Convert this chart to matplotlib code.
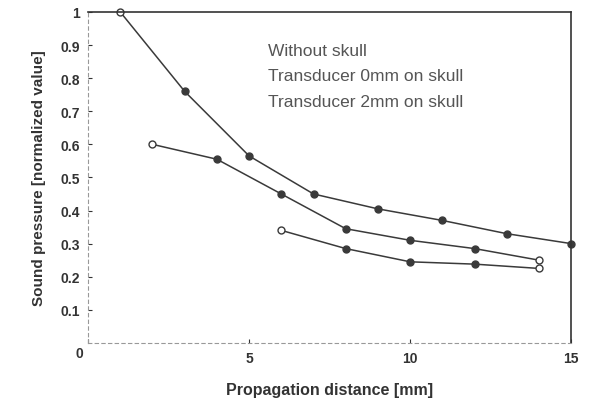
import numpy as np
import matplotlib.pyplot as plt

# distances in mm, pressure normalized to 1
x_free = [1, 3, 5, 7, 9, 11, 13, 15]
p_free = [1.0, 0.76, 0.565, 0.45, 0.405, 0.37, 0.33, 0.30]
x_0mm = [2, 4, 6, 8, 10, 12, 14]
p_0mm = [0.60, 0.555, 0.45, 0.345, 0.31, 0.285, 0.25]
x_2mm = [6, 8, 10, 12, 14]
p_2mm = [0.34, 0.285, 0.245, 0.238, 0.225]

legend_lines = ["Without skull", "Transducer 0mm on skull", "Transducer 2mm on skull"]
xticks = [0, 5, 10, 15]
yticks = [0.1, 0.2, 0.3, 0.4, 0.5, 0.6, 0.7, 0.8, 0.9, 1]

plt.rcParams['font.family'] = ['Liberation Sans', 'DejaVu Sans']
fig = plt.figure(figsize=(5.95, 4.06), dpi=100)
ax = fig.add_axes([0.148, 0.153, 0.812, 0.815])

c = '#3a3a3a'
def draw(x, y, open_first=False, open_last=False):
    ax.plot(x, y, '-', color=c, lw=1.1)
    fill = [c] * len(x)
    if open_first:
        fill[0] = 'white'
    if open_last:
        fill[-1] = 'white'
    for xi, yi, f in zip(x, y, fill):
        ax.plot(xi, yi, 'o', ms=5, mfc=f, mec=c, mew=1.0, clip_on=False)

draw(x_free, p_free, open_first=True)
draw(x_0mm, p_0mm, open_first=True, open_last=True)
draw(x_2mm, p_2mm, open_first=True, open_last=True)

for i, t in enumerate(legend_lines):
    ax.text(5.6, 0.885 - i * 0.078, t, fontsize=12.5, color='#555555', va='center')

ax.set_xlim(0, 15)
ax.set_ylim(0, 1)
ax.set_xticks(xticks)
ax.set_xticklabels(['0', '5', '10', '15'])
ax.set_yticks(yticks)
ax.set_yticklabels(['0.1', '0.2', '0.3', '0.4', '0.5', '0.6', '0.7', '0.8', '0.9', '1'])
ax.text(-0.01, -0.01, '0', transform=ax.transAxes, ha='right', va='top',
        fontsize=10, fontweight='bold', color='#333333')
ax.tick_params(direction='in', length=3, labelsize=10, colors='#333333', pad=6)
for lab in ax.get_xticklabels() + ax.get_yticklabels():
    lab.set_fontweight('bold')
ax.get_xticklabels()[0].set_visible(False)

for s in ['left', 'bottom']:
    ax.spines[s].set_linestyle((0, (3, 3)))
    ax.spines[s].set_color('#999999')
    ax.spines[s].set_linewidth(0.8)
for s in ['top', 'right']:
    ax.spines[s].set_color('#333333')
    ax.spines[s].set_linewidth(1.2)

ax.set_xlabel('Propagation distance [mm]', fontsize=11.5, fontweight='bold',
              color='#333333', labelpad=12)
ax.set_ylabel('Sound pressure [normalized value]', fontsize=11, fontweight='bold',
              color='#333333', labelpad=10)

fig.savefig('out.png', dpi=100)
